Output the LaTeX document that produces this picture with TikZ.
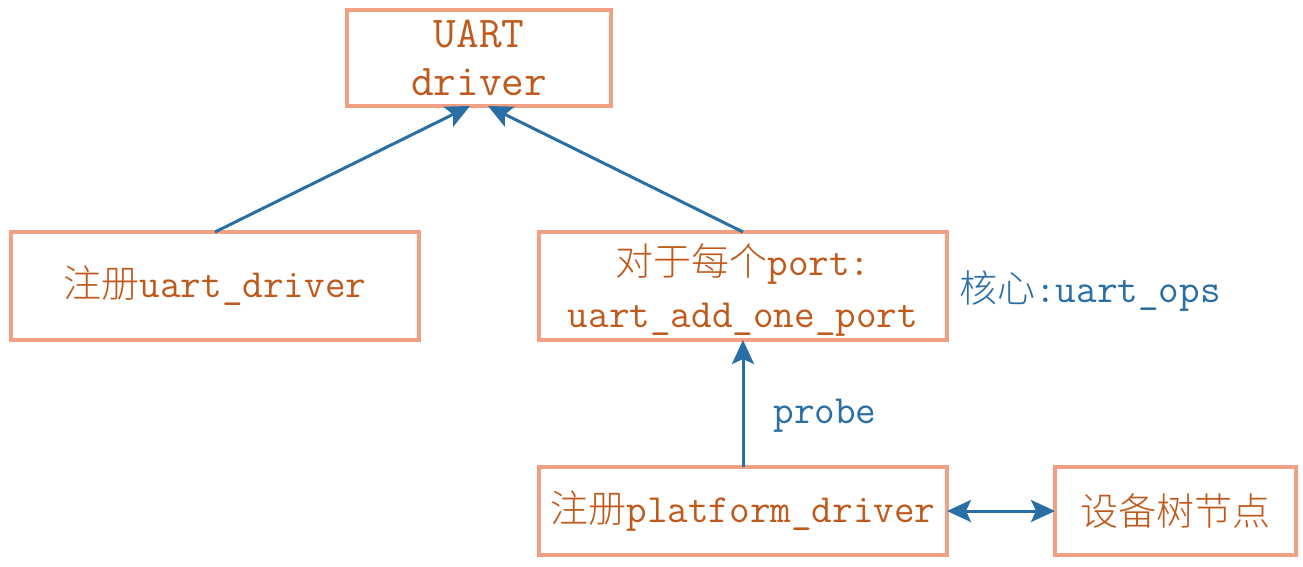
\documentclass[tikz,border=0pt]{standalone}
\usepackage{fontspec}
\usepackage{tikz}
\usetikzlibrary{arrows.meta}
\newfontfamily\cjk{Noto Sans CJK SC Light}[Scale=0.95]
\definecolor{boxline}{HTML}{F2A083}
\definecolor{boxtext}{HTML}{BF5A1C}
\definecolor{linkblue}{HTML}{2A6EA6}
\tikzstyle{box}=[draw=boxline, line width=3.2pt, inner sep=0, outer sep=0, text=boxtext, align=center]
\tikzstyle{note}=[text=linkblue, inner sep=0]
\tikzstyle{link}=[draw=linkblue, line width=3pt, -{Stealth[length=24pt, width=22pt, inset=5pt]}]
\tikzstyle{uartnet}=[x=1pt, y=-1pt,
                     % Mono text with CJK parts set by hand.
                     every node/.style={font=\fontsize{40}{52}\selectfont\ttfamily}]

\begin{document}
\begin{tikzpicture}[uartnet]
        \useasboundingbox (0, 0) rectangle (1303, 566);
        \node[box, minimum width=264pt, minimum height=96pt, font=\fontsize{44}{48}\selectfont\ttfamily] (uart) at (479, 58) {UART\\driver};
        \node[box, minimum width=408pt, minimum height=108pt] (udrv) at (215, 286) {{\cjk 注册}uart\_driver};
        \node[box, minimum width=408pt, minimum height=108pt] (port) at (743, 286) {\rule{0pt}{40pt}{\cjk 对于每个}port:\\uart\_add\_one\_port};
        \node[box, minimum width=408pt, minimum height=88pt] (pdrv) at (743, 511) {{\cjk 注册}platform\_driver};
        \node[box, minimum width=241pt, minimum height=88pt] (dtnode) at (1175.5, 511) {\cjk 设备树节点};
        \node[note] (ops) at (1090, 291) {{\cjk 核心}:uart\_ops};
        \node[note] (probe) at (825, 416) {probe};
        \draw[link] (udrv.north) -- ([xshift=-9pt]uart.south);
        \draw[link] (port.north) -- ([xshift=9pt]uart.south);
        \draw[link] (pdrv.north) -- (port.south);
        \draw[link, {Stealth[length=24pt, width=22pt, inset=5pt]}-{Stealth[length=24pt, width=22pt, inset=5pt]}] (pdrv.east) -- (dtnode.west);
    \end{tikzpicture}
\end{document}
